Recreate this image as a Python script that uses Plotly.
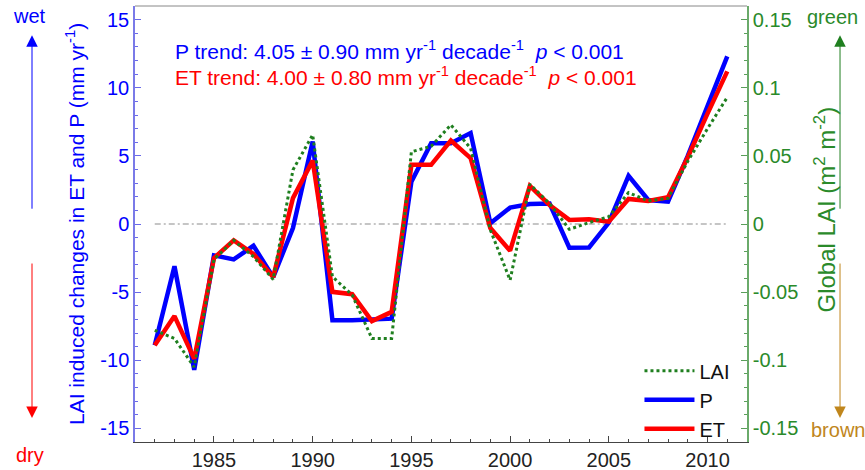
import plotly.graph_objects as go

years = list(range(1982, 2012))
P = [-8.9, -3.1, -10.7, -2.3, -2.6, -1.6, -3.9, -0.3, 6.05, -7.06,
     -7.06, -7.0, -6.95, 3.1, 5.93, 5.93, 6.67, 0.05, 1.2, 1.47,
     1.5, -1.74, -1.72, 0.1, 3.53, 1.76, 1.64, 5.0, 8.7, 12.3]
ET = [-8.9, -6.76, -9.9, -2.5, -1.2, -2.2, -3.9, 1.9, 4.65, -4.98,
      -5.15, -7.13, -6.45, 4.34, 4.34, 6.13, 4.83, -0.3, -1.96, 2.8,
      1.4, 0.3, 0.35, 0.17, 1.84, 1.69, 1.96, 4.9, 8.1, 11.2]
LAI = [-0.078, -0.084, -0.105, -0.026, -0.012, -0.024, -0.0407, 0.0397, 0.0654, -0.0387,
       -0.052, -0.084, -0.084, 0.053, 0.057, 0.0728, 0.0556, -0.0044, -0.0412, 0.0292,
       0.015, -0.0039, 0.001, 0.0054, 0.023, 0.017, 0.0189, 0.046, 0.070, 0.093]

x_ticks = [1985, 1990, 1995, 2000, 2005, 2010]
left_ticks = [15, 10, 5, 0, -5, -10, -15]
left_labels = ["15", "10", "5", "0", "-5", "-10", "-15"]
right_ticks = [0.15, 0.1, 0.05, 0, -0.05, -0.1, -0.15]
right_labels = ["0.15", "0.1", "0.05", "0", "-0.05", "-0.1", "-0.15"]

FONT = "Arial, Liberation Sans, sans-serif"
BLUE = "#0000ff"
RED = "#ff0000"
GREEN = "#1f7f1f"
GREEN_TXT = "#2a8a2a"
BROWN = "#c0861c"

fig = go.Figure()

# zero reference line
fig.add_trace(go.Scatter(x=[years[0], years[-1]], y=[0, 0], mode="lines",
                         line=dict(color="#8c8c8c", width=1.2, dash="6px,3px,2px,3px"),
                         showlegend=False, hoverinfo="skip"))
fig.add_trace(go.Scatter(x=years, y=P, mode="lines", name="P",
                         line=dict(color=BLUE, width=4.5), legendrank=2))
fig.add_trace(go.Scatter(x=years, y=ET, mode="lines", name="ET",
                         line=dict(color=RED, width=4.5), legendrank=3))
fig.add_trace(go.Scatter(x=years, y=LAI, mode="lines", name="LAI", yaxis="y2",
                         line=dict(color=GREEN, width=3, dash="dot"), legendrank=1))

fig.update_layout(
    width=865, height=470,
    margin=dict(l=135, r=118, t=6, b=28),
    plot_bgcolor="white", paper_bgcolor="white",
    font=dict(family=FONT, size=20, color="#222"),
    xaxis=dict(range=[1981, 2012], tickvals=x_ticks, ticks="inside", ticklen=6,
               tickcolor="#444", showline=True, linecolor="#444", linewidth=1,
               showgrid=False, zeroline=False, automargin=False,
               minor=dict(dtick=1, ticks="inside", ticklen=3, tickcolor="#444"),
               tickfont=dict(size=20, color="#222")),
    yaxis=dict(range=[-16, 16], tickvals=left_ticks, ticktext=left_labels,
               ticks="inside", ticklen=6, tickcolor="#6a6ae8",
               showline=True, linecolor="#7a7ae8", linewidth=1.5,
               showgrid=False, zeroline=False, automargin=False,
               minor=dict(dtick=1, ticks="inside", ticklen=3, tickcolor="#6a6ae8"),
               tickfont=dict(size=20, color=BLUE)),
    yaxis2=dict(range=[-0.16, 0.16], overlaying="y", side="right",
                tickvals=right_ticks, ticktext=right_labels,
                ticks="inside", ticklen=6, tickcolor="#5a9e5a",
                showline=True, linecolor="#6aaa6a", linewidth=1.5,
                showgrid=False, zeroline=False, automargin=False,
                minor=dict(dtick=0.01, ticks="inside", ticklen=3, tickcolor="#5a9e5a"),
                tickfont=dict(size=20, color=GREEN_TXT)),
    legend=dict(x=0.8243, y=0.208, xanchor="left", yanchor="top", itemwidth=50,
                bgcolor="rgba(0,0,0,0)", font=dict(size=20, color="#111"),
                tracegroupgap=0),
    shapes=[dict(type="line", xref="paper", yref="paper", x0=0, x1=1, y0=1, y1=1,
                 line=dict(color="#888", width=1))],
)

ann = []
ann.append(dict(xref="paper", yref="paper", x=0.062, y=0.899, xanchor="left", yanchor="middle",
                showarrow=False, font=dict(size=21, color=BLUE),
                text="P trend: 4.05 \u00b1 0.90 mm yr<sup>-1</sup> decade<sup>-1</sup>\u00a0\u00a0<i>p</i> < 0.001"))
ann.append(dict(xref="paper", yref="paper", x=0.062, y=0.839, xanchor="left", yanchor="middle",
                showarrow=False, font=dict(size=21, color=RED),
                text="ET trend: 4.00 \u00b1 0.80 mm yr<sup>-1</sup> decade<sup>-1</sup>\u00a0\u00a0<i>p</i> < 0.001"))
# axis titles
ann.append(dict(xref="paper", yref="paper", x=-0.098, y=0.5, textangle=-90,
                xanchor="center", yanchor="middle", showarrow=False,
                font=dict(size=21, color=BLUE),
                text="LAI induced changes in ET and P (mm yr<sup>-1</sup>)"))
ann.append(dict(xref="paper", yref="paper", x=1.128, y=0.534, textangle=-90,
                xanchor="center", yanchor="middle", showarrow=False,
                font=dict(size=24, color=GREEN_TXT),
                text="Global LAI (m<sup>2</sup> m<sup>-2</sup>)"))
# wet / dry / green / brown labels
ann.append(dict(xref="paper", yref="paper", x=-0.1716, y=0.977, xanchor="center", yanchor="middle",
                showarrow=False, font=dict(size=20, color=BLUE), text="wet"))
ann.append(dict(xref="paper", yref="paper", x=-0.1716, y=-0.03, xanchor="center", yanchor="middle",
                showarrow=False, font=dict(size=20, color=RED), text="dry"))
ann.append(dict(xref="paper", yref="paper", x=1.139, y=0.975, xanchor="center", yanchor="middle",
                showarrow=False, font=dict(size=20, color=GREEN_TXT), text="green"))
ann.append(dict(xref="paper", yref="paper", x=1.148, y=0.028, xanchor="center", yanchor="middle",
                showarrow=False, font=dict(size=20, color=BROWN), text="brown"))
# arrows
ann.append(dict(xref="paper", yref="paper", x=-0.1683, y=0.933, ax=0, ay=175,
                showarrow=True, arrowhead=2, arrowsize=2.3, arrowwidth=1,
                arrowcolor=BLUE, text=""))
ann.append(dict(xref="paper", yref="paper", x=-0.1683, y=0.055, ax=0, ay=-156,
                showarrow=True, arrowhead=2, arrowsize=2.3, arrowwidth=1,
                arrowcolor=RED, text=""))
ann.append(dict(xref="paper", yref="paper", x=1.152, y=0.933, ax=0, ay=175,
                showarrow=True, arrowhead=2, arrowsize=2.3, arrowwidth=1,
                arrowcolor=GREEN, text=""))
ann.append(dict(xref="paper", yref="paper", x=1.152, y=0.055, ax=0, ay=-156,
                showarrow=True, arrowhead=2, arrowsize=2.3, arrowwidth=1,
                arrowcolor=BROWN, text=""))
fig.update_layout(annotations=ann)

fig.write_html("out.html", config={"displayModeBar": False},
               post_script="document.body.style.margin='0';document.body.style.overflow='hidden';")
